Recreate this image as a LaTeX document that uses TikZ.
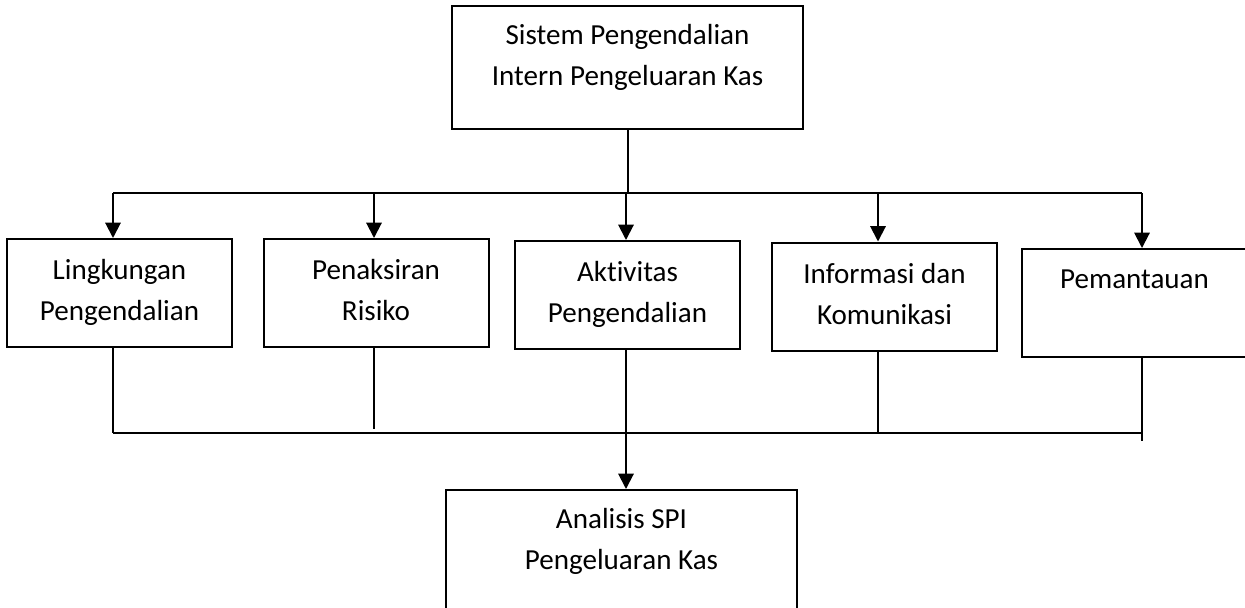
\documentclass[tikz,border=0pt]{standalone}
\usepackage{fontspec}
\setmainfont{Carlito}[Ligatures=NoCommon]
\usepackage{tikz}
\usetikzlibrary{arrows.meta, positioning, calc}
\definecolor{garis}{HTML}{000000}

\begin{document}
\begin{tikzpicture}[x=0.75pt, y=-0.75pt,
    kotak/.style={draw=garis, line width=1.5pt, align=center, inner sep=0pt,
      minimum width=168.75pt, minimum height=81pt,
      text height=46.5pt, text depth=5pt,
      font=\fontsize{21.8}{30.75}\selectfont},
    satubaris/.style={text height=15pt, text depth=37.5pt},
    panah/.style={draw=garis, line width=1.5pt, -{Triangle[length=11.5pt, width=11.5pt]}},
    sambung/.style={draw=garis, line width=1.5pt}]
  \useasboundingbox (0,0) rectangle (1245,607);
  \fill[white] (0,0) rectangle (1245,607);
  % Kotak utama
  \node[kotak, minimum width=263.25pt, minimum height=92.25pt, text depth=18.8pt]
    (sistem) at (627.5,67.5) {Sistem Pengendalian\\Intern Pengeluaran Kas};
  % Lima komponen SPI
  \foreach \nama/\x/\y/\teks in {lingkungan/119.5/293/{Lingkungan\\Pengendalian},
      penaksiran/376/293/{Penaksiran\\Risiko},
      aktivitas/627.5/295/{Aktivitas\\Pengendalian},
      informasi/884.5/296.5/{Informasi dan\\Komunikasi}} {
    \node[kotak] (\nama) at (\x,\y) {\teks};
  }
  \node[kotak, satubaris] (pemantauan) at (1134.5,303) {Pemantauan};
  % Kotak hasil (terpotong di bawah)
  \node[kotak, minimum width=263.25pt, minimum height=150pt, text depth=78pt]
    (analisis) at (621.5,590) {Analisis SPI\\Pengeluaran Kas};
  % Garis atas
  \foreach \nama/\x in {lingkungan/113, penaksiran/374, aktivitas/626,
      informasi/878, pemantauan/1142} {
    \coordinate (a-\nama) at (\x,193);
    \draw[panah] (a-\nama) -- (a-\nama |- \nama.north);
  }
  \draw[sambung] (sistem.south) -- (sistem.south |- a-aktivitas);
  \draw[sambung] (a-lingkungan) -- (a-pemantauan);
  % Garis bawah
  \foreach \nama/\x/\y in {lingkungan/113/433, penaksiran/374/429, aktivitas/626/433,
      informasi/878/433, pemantauan/1142/441} {
    \coordinate (b-\nama) at (\x,\y);
    \draw[sambung] (b-\nama |- \nama.south) -- (b-\nama);
  }
  \draw[sambung] (b-lingkungan) -- (b-lingkungan -| b-pemantauan);
  \draw[panah] (b-aktivitas) -- (b-aktivitas |- analisis.north);
\end{tikzpicture}
\end{document}
